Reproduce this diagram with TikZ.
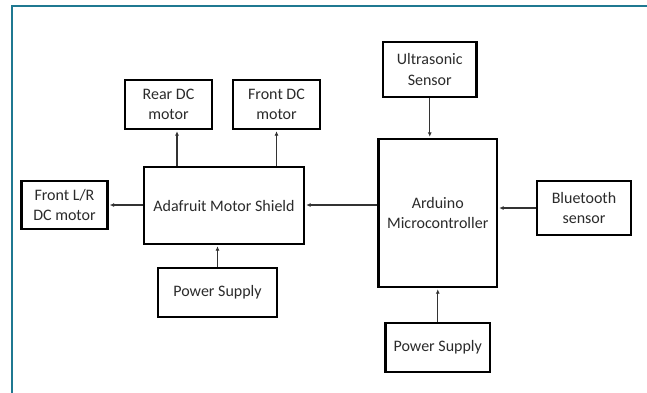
\documentclass[tikz,border=0pt]{standalone}
\usepackage{fontspec}
\setmainfont{Carlito}
\usetikzlibrary{arrows.meta}
\definecolor{frame}{HTML}{1F7891}
\definecolor{txt}{HTML}{2B2B2B}
\begin{document}
\begin{tikzpicture}[x=1pt,y=-1pt,
  blk/.style={draw=black,line width=2.2pt,rectangle,inner sep=0pt,align=center,
    text=txt,font=\fontsize{16}{20.5}\selectfont},
  arr/.style={line width=1.2pt,draw=black!80,shorten >=1.1pt,-{Latex[length=4.5pt,width=4pt]}}]
\useasboundingbox (0,0) rectangle (647,392);
\fill[white] (0,0) rectangle (647,392);
\draw[frame,line width=2pt] (11.5,393) -- (11.5,5.5) -- (648,5.5);
\node[blk,minimum width=87pt,minimum height=49pt] (rear) at (168.5,104.5) {Rear DC\\motor};
\node[blk,minimum width=87pt,minimum height=49pt] (frontdc) at (276.5,104.5) {Front DC\\motor};
\node[blk,minimum width=86pt,minimum height=48pt] (frontlr) at (64.5,205) {Front L/R\\DC motor};
\node[blk,minimum width=160pt,minimum height=77pt] (shield) at (224,205.5) {Adafruit Motor Shield};
\node[blk,minimum width=119pt,minimum height=49pt] (psl) at (217.5,292.5) {Power Supply};
\node[blk,minimum width=93.5pt,minimum height=55pt] (ultra) at (429.75,69.5) {Ultrasonic\\Sensor};
\node[blk,minimum width=118.5pt,minimum height=148pt] (ard) at (437.75,213) {Arduino\\Microcontroller};
\node[blk,minimum width=94.5pt,minimum height=54pt] (bt) at (584,208) {Bluetooth\\sensor};
\node[blk,minimum width=104.5pt,minimum height=49pt] (psr) at (437.75,347.5) {Power Supply};
\draw[arr] ([xshift=8.5pt]rear.south |- shield.north) -- ([xshift=8.5pt]rear.south);
\draw[arr] (frontdc.south |- shield.north) -- (frontdc.south);
\draw[arr] (shield.west |- frontlr.east) -- (frontlr.east);
\draw[arr] (ard.west |- 0,205) -- (shield.east |- 0,205);
\draw[arr] (ultra.south) -- (ultra.south |- ard.north);
\draw[arr] (bt.west) -- (bt.west -| ard.east);
\draw[arr] (psr.north) -- (ard.south);
\draw[arr] (psl.north) -- (psl.north |- shield.south);
\end{tikzpicture}
\end{document}
